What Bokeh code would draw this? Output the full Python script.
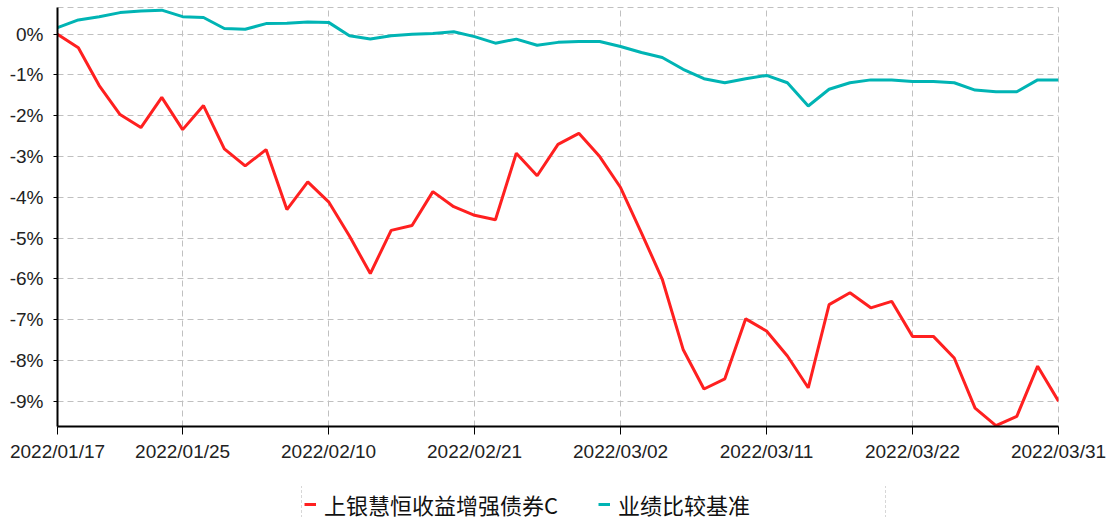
from bokeh.plotting import figure
from bokeh.layouts import column
from bokeh.models import Legend, LegendItem, FixedTicker, Range1d, CustomJSTickFormatter
from bokeh.embed import file_html
from bokeh.resources import INLINE

dates = [
    "2022/01/17", "2022/01/18", "2022/01/19", "2022/01/20", "2022/01/21", "2022/01/24",
    "2022/01/25", "2022/01/26", "2022/01/27", "2022/01/28", "2022/02/07", "2022/02/08",
    "2022/02/09", "2022/02/10", "2022/02/11", "2022/02/14", "2022/02/15", "2022/02/16",
    "2022/02/17", "2022/02/18", "2022/02/21", "2022/02/22", "2022/02/23", "2022/02/24",
    "2022/02/25", "2022/02/28", "2022/03/01", "2022/03/02", "2022/03/03", "2022/03/04",
    "2022/03/07", "2022/03/08", "2022/03/09", "2022/03/10", "2022/03/11", "2022/03/14",
    "2022/03/15", "2022/03/16", "2022/03/17", "2022/03/18", "2022/03/21", "2022/03/22",
    "2022/03/23", "2022/03/24", "2022/03/25", "2022/03/28", "2022/03/29", "2022/03/30",
    "2022/03/31",
]

fund = [
    0.00, -0.33, -1.26, -1.97, -2.29, -1.55, -2.34, -1.75, -2.81, -3.23,
    -2.83, -4.30, -3.62, -4.11, -4.95, -5.87, -4.81, -4.69, -3.86, -4.23,
    -4.44, -4.55, -2.92, -3.47, -2.70, -2.43, -3.00, -3.76, -4.87, -6.01,
    -7.73, -8.70, -8.45, -6.98, -7.28, -7.89, -8.67, -6.63, -6.34, -6.71,
    -6.55, -7.41, -7.41, -7.94, -9.17, -9.60, -9.37, -8.14, -9.00,
]

benchmark = [
    0.16, 0.35, 0.43, 0.53, 0.57, 0.59, 0.43, 0.41, 0.14, 0.12,
    0.26, 0.27, 0.30, 0.29, -0.04, -0.12, -0.04, 0.00, 0.02, 0.06,
    -0.06, -0.22, -0.12, -0.27, -0.20, -0.18, -0.18, -0.30, -0.45, -0.57,
    -0.86, -1.09, -1.19, -1.09, -1.01, -1.19, -1.76, -1.35, -1.19, -1.12,
    -1.12, -1.16, -1.16, -1.19, -1.37, -1.41, -1.41, -1.12, -1.12,
]

tick_labels = ["2022/01/17", "2022/01/25", "2022/02/10", "2022/02/21",
               "2022/03/02", "2022/03/11", "2022/03/22", "2022/03/31"]
y_ticks = [0, -1, -2, -3, -4, -5, -6, -7, -8, -9]

series_names = ["上银慧恒收益增强债券C", "业绩比较基准"]
series_colors = ["#ff2020", "#00b4b4"]

x = list(range(len(dates)))
x_ticks = [dates.index(t) for t in tick_labels]

# ---- main chart ----
p = figure(width=1108, height=486, output_backend="svg", toolbar_location=None,
           x_range=Range1d(0, len(dates) - 1), y_range=Range1d(-9.62, 0.655),
           min_border_left=57, min_border_right=50, min_border_top=7, min_border_bottom=60)

r1 = p.line(x, fund, line_color=series_colors[0], line_width=3)
r2 = p.line(x, benchmark, line_color=series_colors[1], line_width=3)

p.xaxis.ticker = FixedTicker(ticks=x_ticks)
p.xaxis.major_label_overrides = {i: t for i, t in zip(x_ticks, tick_labels)}
p.yaxis.ticker = FixedTicker(ticks=y_ticks)
p.yaxis.formatter = CustomJSTickFormatter(code="return Math.round(tick) + '%';")

for ax in (p.xaxis[0], p.yaxis[0]):
    ax.axis_line_color = "black"
    ax.axis_line_width = 2
    ax.major_tick_line_color = "black"
    ax.minor_tick_line_color = None
    ax.major_label_text_font = "Liberation Sans"
    ax.major_label_text_font_size = "19px"
    ax.major_label_text_color = "#222222"
    ax.major_tick_in = 0

p.xaxis.major_tick_out = 8
p.xaxis.major_label_standoff = 6
p.yaxis.major_tick_out = 4
p.yaxis.major_label_standoff = 10

for g in (p.xgrid[0], p.ygrid[0]):
    g.grid_line_color = "#c0c0c0"
    g.grid_line_dash = "6 4"
    g.grid_line_width = 1

p.outline_line_color = "#c0c0c0"
p.outline_line_dash = "6 4"
p.outline_line_width = 1
p.background_fill_color = "white"
p.border_fill_color = "white"

# ---- legend strip (same series, kept out of view; only the legend shows) ----
lg = figure(width=1108, height=31, output_backend="svg", toolbar_location=None,
            x_range=Range1d(0, len(dates) - 1), y_range=Range1d(100, 101),
            x_axis_location=None, y_axis_location=None,
            min_border_left=0, min_border_right=0, min_border_top=0, min_border_bottom=0)
lg.grid.visible = False
lg.outline_line_color = None
lg1 = lg.line(x, fund, line_color=series_colors[0], line_width=3)
lg2 = lg.line(x, benchmark, line_color=series_colors[1], line_width=3)

legend = Legend(items=[LegendItem(label=series_names[0], renderers=[lg1]),
                       LegendItem(label=series_names[1], renderers=[lg2])],
                orientation="horizontal", location=(244, -6))
legend.label_text_font = "Noto Sans CJK SC"
legend.label_text_font_size = "22px"
legend.label_text_color = "#111111"
legend.glyph_width = 12
legend.glyph_height = 20
legend.label_standoff = 8
legend.label_width = 265
legend.spacing = 9
legend.padding = 2
legend.margin = 0
legend.border_line_color = "#b0b0b0"
legend.border_line_dash = "1 2"
legend.border_line_width = 1
legend.background_fill_alpha = 0
lg.add_layout(legend, "center")

layout = column(p, lg, spacing=0)
open("out.html", "w").write(file_html(layout, INLINE))
